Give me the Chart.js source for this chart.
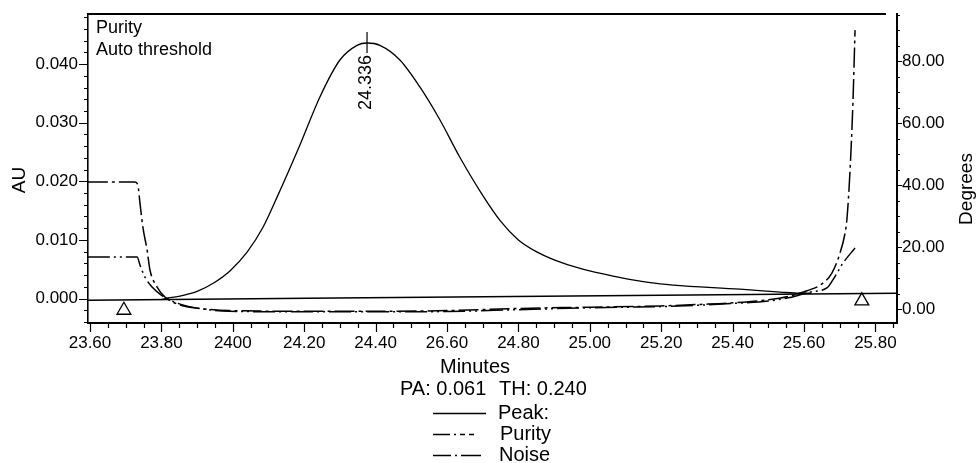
<!DOCTYPE html>
<html>
<head>
<meta charset="utf-8">
<script src="https://cdn.jsdelivr.net/npm/chart.js@4.4.1/dist/chart.umd.min.js"></script>
<style>
  html, body { margin: 0; padding: 0; background: #fff; }
  #wrap { width: 977px; height: 463px; }
</style>
</head>
<body>
<div id="wrap"><canvas id="purityChart" width="977" height="463"></canvas></div>
<script>
// chromatogram (left axis, AU)
const peakTime = [23.80, 23.818, 23.852, 23.900, 23.945, 23.992, 24.040, 24.085, 24.124, 24.188, 24.244, 24.300, 24.348, 24.376,
                  24.412, 24.468, 24.524, 24.580, 24.636, 24.700, 24.750, 24.800, 24.850, 24.900, 24.980, 25.076, 25.169,
                  25.233, 25.421, 25.533, 25.589, 25.62];
const peakAU = [-0.0002, 0.0001, 0.0004, 0.0012, 0.0026, 0.0047, 0.0079, 0.0122, 0.0173, 0.0262, 0.0344, 0.0407, 0.0432, 0.0436,
                0.0432, 0.0407, 0.0361, 0.0305, 0.0241, 0.0176, 0.0132, 0.0100, 0.0080, 0.0066, 0.0050, 0.0037, 0.0027,
                0.0023, 0.0016, 0.0011, 0.0009, 0.0009];
const peakApexLabel = '24.336';

// integration baseline and markers
const baseTime = [23.594, 25.86];
const baseAU = [-0.0003, 0.0009];
const markerTime = [23.695, 25.762];
const markerAU = [-0.0020, -0.0004];

// purity curves (right axis, degrees)
const purityTime = [23.594, 23.732, 23.740, 23.754, 23.774, 23.796, 23.824, 23.852, 23.900, 23.990, 24.20, 24.40, 24.60,
                    24.80, 25.00, 25.20, 25.30, 25.40, 25.50, 25.56, 25.617, 25.664, 25.681, 25.709, 25.743];
const purityDeg = [16.8, 16.8, 14.2, 10.3, 7.1, 4.8, 2.9, 1.6, 0.3, -0.7, -0.9, -0.9, -0.8,
                   -0.2, 0.4, 0.8, 1.2, 1.8, 2.6, 3.7, 5.5, 6.8, 9.4, 14.8, 19.7];
const noiseTime = [23.594, 23.726, 23.734, 23.740, 23.748, 23.760, 23.768, 23.788, 23.810, 23.852, 23.900, 23.990, 24.20,
                   24.40, 24.60, 24.80, 25.00, 25.20, 25.31, 25.40, 25.50, 25.56, 25.608, 25.645, 25.678, 25.701, 25.715,
                   25.720, 25.729, 25.737, 25.743];
const noiseDeg = [41.0, 41.0, 40.0, 34.2, 26.5, 19.0, 12.6, 7.1, 3.9, 1.3, 0.3, -0.5, -0.7,
                  -0.7, -0.5, 0.2, 0.6, 1.0, 1.5, 2.0, 3.0, 4.2, 5.9, 7.7, 11.6, 18.1, 24.5,
                  28.7, 44.8, 66.5, 90.0];

// axis ticks
const xTicks = [23.6, 23.8, 24.0, 24.2, 24.4, 24.6, 24.8, 25.0, 25.2, 25.4, 25.6, 25.8];
const xTickLabels = ['23.60', '23.80', '2400', '24.20', '24.40', '26.60', '24.80', '25.00', '25.20', '25.40', '25.60', '25.80'];
const auTicks = [0, 0.01, 0.02, 0.03, 0.04];
const auTickLabels = ['0.000', '0.010', '0.020', '0.030', '0.040'];
const degTicks = [0, 20, 40, 60, 80];
const degTickLabels = ['0.00', '20.00', '40.00', '60.00', '80.00'];

const FONT = '"Liberation Sans", Arial, Helvetica, sans-serif';
const PURITY_DASH = [22, 4, 2, 4, 2, 4];
const NOISE_DASH = [20, 4, 3, 4];

const toPoints = (xs, ys) => xs.map((x, i) => ({ x, y: ys[i] }));

const decorations = {
    id: 'decorations',
    afterDraw(chart) {
        const { ctx, chartArea: a, scales } = chart;
        const x = scales.x, y = scales.y, y1 = scales.y1;
        ctx.save();
        ctx.strokeStyle = '#000';
        ctx.fillStyle = '#000';

        // minor / major tick marks
        ctx.lineWidth = 1.2;
        ctx.beginPath();
        for (let k = 0; k <= 45; k++) {
            const px = Math.round(x.getPixelForValue(23.6 + k * 0.05)) + 0.5;
            const len = k % 4 === 0 ? 9 : 5;
            ctx.moveTo(px, a.bottom);
            ctx.lineTo(px, a.bottom + len);
        }
        for (let k = -2; k <= 24; k++) {
            const py = Math.round(y.getPixelForValue(k * 0.002)) + 0.5;
            const len = k % 5 === 0 ? 9 : 4;
            ctx.moveTo(a.left - len, py);
            ctx.lineTo(a.left, py);
        }
        for (let k = 0; k <= 19; k++) {
            const py = Math.round(y1.getPixelForValue(k * 5)) + 0.5;
            const len = k % 4 === 0 ? 5 : 3;
            ctx.moveTo(a.right, py);
            ctx.lineTo(a.right + len, py);
        }
        ctx.stroke();

        // top frame line
        ctx.lineWidth = 2;
        ctx.beginPath();
        ctx.moveTo(a.left, a.top);
        ctx.lineTo(a.right - 11, a.top);
        ctx.stroke();

        // apex marker
        const iMax = peakAU.indexOf(Math.max(...peakAU));
        const apx = x.getPixelForValue(peakTime[iMax]);
        const apy = y.getPixelForValue(peakAU[iMax]);
        ctx.lineWidth = 1.2;
        ctx.beginPath();
        ctx.moveTo(apx, apy - 11);
        ctx.lineTo(apx, apy + 10);
        ctx.stroke();
        ctx.save();
        ctx.translate(apx - 1, apy + 12);
        ctx.rotate(-Math.PI / 2);
        ctx.font = `18px ${FONT}`;
        ctx.textAlign = 'right';
        ctx.textBaseline = 'middle';
        ctx.fillText(peakApexLabel, 0, 0);
        ctx.restore();

        // texts
        ctx.textBaseline = 'middle';
        ctx.textAlign = 'left';
        ctx.font = `18px ${FONT}`;
        ctx.fillText('Purity', 96, 28);
        ctx.fillText('Auto threshold', 96, 50);

        ctx.save();
        ctx.translate(20, 180);
        ctx.rotate(-Math.PI / 2);
        ctx.textAlign = 'center';
        ctx.font = `19px ${FONT}`;
        ctx.fillText('AU', 0, 0);
        ctx.restore();

        ctx.save();
        ctx.translate(967, 189);
        ctx.rotate(-Math.PI / 2);
        ctx.textAlign = 'center';
        ctx.font = `19px ${FONT}`;
        ctx.fillText('Degrees', 0, 0);
        ctx.restore();

        ctx.font = `20px ${FONT}`;
        ctx.textAlign = 'center';
        ctx.fillText('Minutes', 475, 367);
        ctx.textAlign = 'left';
        ctx.fillText('PA: 0.061', 400, 389);
        ctx.fillText('TH: 0.240', 499, 389);

        // legend
        const rows = [
            { label: 'Peak:', dash: [], y: 413, tx: 498 },
            { label: 'Purity', dash: [17, 4, 2, 4, 5, 4, 5], y: 434, tx: 500 },
            { label: 'Noise', dash: [18, 4, 2, 4, 20], y: 455, tx: 499 }
        ];
        rows.forEach(r => {
            ctx.lineWidth = 1.6;
            ctx.setLineDash(r.dash);
            ctx.beginPath();
            ctx.moveTo(433, r.y + 0.5);
            ctx.lineTo(486, r.y + 0.5);
            ctx.stroke();
            ctx.setLineDash([]);
            ctx.fillText(r.label, r.tx, r.y);
        });
        ctx.restore();
    }
};

const lineSet = (data, axis, dash, width) => ({
    data,
    yAxisID: axis,
    showLine: true,
    borderColor: '#000',
    borderWidth: width,
    borderDash: dash,
    pointRadius: 0,
    cubicInterpolationMode: 'monotone',
    fill: false
});

new Chart(document.getElementById('purityChart').getContext('2d'), {
    type: 'scatter',
    data: {
        datasets: [
            lineSet(toPoints(peakTime, peakAU), 'y', [], 1.3),
            lineSet(toPoints(baseTime, baseAU), 'y', [], 1.5),
            lineSet(toPoints(purityTime, purityDeg), 'y1', PURITY_DASH, 1.5),
            lineSet(toPoints(noiseTime, noiseDeg), 'y1', NOISE_DASH, 1.5),
            {
                data: toPoints(markerTime, markerAU),
                yAxisID: 'y',
                showLine: false,
                pointStyle: 'triangle',
                pointRadius: 8,
                pointBackgroundColor: '#fff',
                pointBorderColor: '#000',
                pointBorderWidth: 1.3
            }
        ]
    },
    options: {
        responsive: false,
        animation: false,
        devicePixelRatio: 1,
        layout: { padding: { top: 14, left: 0, right: 0, bottom: 0 } },
        plugins: { legend: { display: false }, tooltip: { enabled: false } },
        events: [],
        scales: {
            x: {
                type: 'linear',
                min: 23.5944,
                max: 25.8605,
                afterBuildTicks: s => { s.ticks = xTicks.map(v => ({ value: v })); },
                afterFit: s => { s.height = 140; },
                ticks: {
                    callback: (v, i) => xTickLabels[i],
                    color: '#000',
                    font: { family: FONT, size: 17 },
                    padding: 1,
                    maxRotation: 0,
                    autoSkip: false
                },
                grid: { display: true, drawOnChartArea: false, tickLength: 9, tickColor: 'rgba(0,0,0,0)' },
                border: { display: true, color: '#000', width: 2 }
            },
            y: {
                type: 'linear',
                position: 'left',
                min: -0.00418,
                max: 0.04855,
                afterBuildTicks: s => { s.ticks = auTicks.map(v => ({ value: v })); },
                afterFit: s => { s.width = 88; },
                ticks: {
                    callback: (v, i) => auTickLabels[i],
                    color: '#000',
                    font: { family: FONT, size: 17 },
                    padding: 1
                },
                grid: { display: true, drawOnChartArea: false, tickLength: 9, tickColor: 'rgba(0,0,0,0)' },
                border: { display: true, color: '#000', width: 1.6 }
            },
            y1: {
                type: 'linear',
                position: 'right',
                min: -4.5,
                max: 95.2,
                afterBuildTicks: s => { s.ticks = degTicks.map(v => ({ value: v })); },
                afterFit: s => { s.width = 80; },
                ticks: {
                    callback: (v, i) => degTickLabels[i],
                    color: '#000',
                    font: { family: FONT, size: 17 },
                    padding: 0
                },
                grid: { display: true, drawOnChartArea: false, tickLength: 5, tickColor: 'rgba(0,0,0,0)' },
                border: { display: true, color: '#000', width: 2 }
            }
        }
    },
    plugins: [decorations]
});
</script>
</body>
</html>
